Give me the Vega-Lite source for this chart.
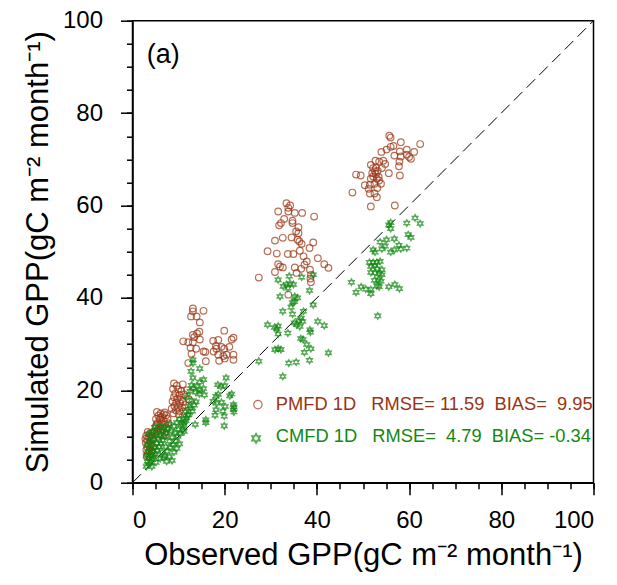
{
 "$schema": "https://vega.github.io/schema/vega-lite/v6.json",
 "width": 461,
 "height": 462,
 "autosize": {"type": "none"},
 "padding": {"left": 132.5, "top": 20.7, "right": 23.5, "bottom": 102.3},
 "background": "white",
 "config": {
  "view": {"stroke": "black", "strokeWidth": 1.5},
  "font": "Liberation Sans",
  "axis": {"domainColor": "black", "domainWidth": 1.5, "tickColor": "black", "tickWidth": 1.5, "labelColor": "black", "titleColor": "black", "grid": false, "labelFont": "Liberation Sans", "titleFont": "Liberation Sans", "titleFontWeight": "normal"}
 },
 "datasets": {
  "diag": [{"obs": 0, "sim": 0}, {"obs": 100, "sim": 100}],
  "pmfd": [
   {"obs":55.7,"sim":75.1},{"obs":56.0,"sim":74.7},{"obs":58.2,"sim":73.7},{"obs":59.5,"sim":72.1},{"obs":61.1,"sim":71.6},{"obs":62.4,"sim":73.3},{"obs":56.6,"sim":72.9},{"obs":56.0,"sim":72.7},{"obs":55.1,"sim":72.1},{"obs":54.0,"sim":71.6},{"obs":58.0,"sim":71.7},{"obs":58.2,"sim":70.6},{"obs":56.8,"sim":70.8},{"obs":59.5,"sim":71.0},{"obs":60.0,"sim":70.5},{"obs":60.4,"sim":70.1},{"obs":57.9,"sim":69.5},{"obs":52.7,"sim":69.7},{"obs":53.5,"sim":69.5},{"obs":54.4,"sim":69.7},{"obs":54.8,"sim":69.0},{"obs":51.7,"sim":68.8},{"obs":57.8,"sim":68.5},{"obs":52.2,"sim":68.1},{"obs":52.8,"sim":68.2},{"obs":54.1,"sim":68.1},{"obs":52.6,"sim":67.4},{"obs":53.2,"sim":67.5},{"obs":52.8,"sim":66.8},{"obs":52.2,"sim":66.3},{"obs":55.6,"sim":67.0},{"obs":58.0,"sim":66.5},{"obs":48.5,"sim":66.7},{"obs":49.5,"sim":66.5},{"obs":51.7,"sim":65.8},{"obs":53.0,"sim":65.8},{"obs":53.5,"sim":65.4},{"obs":53.9,"sim":64.7},{"obs":52.5,"sim":64.7},{"obs":51.5,"sim":64.5},{"obs":50.4,"sim":64.4},{"obs":53.1,"sim":63.8},{"obs":51.2,"sim":63.6},{"obs":47.7,"sim":62.8},{"obs":51.5,"sim":62.6},{"obs":52.5,"sim":62.6},{"obs":53.0,"sim":61.8},{"obs":51.7,"sim":59.8},{"obs":56.9,"sim":60.0},{"obs":53.4,"sim":66.2},{"obs":52.0,"sim":67.0},
   {"obs":33.4,"sim":60.5},{"obs":33.8,"sim":59.5},{"obs":34.2,"sim":60.0},{"obs":31.6,"sim":58.7},{"obs":33.8,"sim":58.7},{"obs":35.2,"sim":58.4},{"obs":36.8,"sim":58.4},{"obs":39.4,"sim":57.6},{"obs":32.9,"sim":57.1},{"obs":34.7,"sim":56.7},{"obs":34.7,"sim":56.2},{"obs":32.2,"sim":56.2},{"obs":31.8,"sim":55.7},{"obs":36.0,"sim":55.3},{"obs":35.5,"sim":54.4},{"obs":36.0,"sim":54.0},{"obs":30.9,"sim":52.4},{"obs":32.6,"sim":53.0},{"obs":34.5,"sim":53.1},{"obs":35.8,"sim":52.6},{"obs":36.2,"sim":52.2},{"obs":36.7,"sim":51.7},{"obs":39.2,"sim":52.0},{"obs":38.4,"sim":50.8},{"obs":36.3,"sim":50.2},{"obs":29.3,"sim":50.1},{"obs":31.3,"sim":49.6},{"obs":33.7,"sim":49.5},{"obs":34.9,"sim":49.5},{"obs":37.1,"sim":49.0},{"obs":40.2,"sim":48.6},{"obs":37.8,"sim":47.9},{"obs":31.6,"sim":47.3},{"obs":32.0,"sim":46.8},{"obs":32.6,"sim":46.6},{"obs":35.2,"sim":46.6},{"obs":37.3,"sim":47.2},{"obs":36.6,"sim":46.3},{"obs":41.6,"sim":47.3},{"obs":42.5,"sim":46.5},{"obs":38.5,"sim":46.1},{"obs":30.9,"sim":45.6},{"obs":35.6,"sim":45.4},{"obs":38.7,"sim":45.0},{"obs":27.4,"sim":44.4},{"obs":38.6,"sim":44.2},{"obs":38.7,"sim":43.4},{"obs":33.8,"sim":40.7},
   {"obs":13.1,"sim":37.7},{"obs":13.1,"sim":37.1},{"obs":15.4,"sim":37.2},{"obs":12.7,"sim":36.0},{"obs":13.9,"sim":36.0},{"obs":14.6,"sim":34.7},{"obs":14.5,"sim":32.7},{"obs":14.0,"sim":32.3},{"obs":13.1,"sim":32.0},{"obs":13.4,"sim":31.5},{"obs":14.6,"sim":31.0},{"obs":11.0,"sim":30.6},{"obs":12.1,"sim":30.4},{"obs":13.1,"sim":30.4},{"obs":12.6,"sim":29.2},{"obs":13.8,"sim":29.0},{"obs":12.8,"sim":27.9},{"obs":15.4,"sim":28.4},{"obs":15.8,"sim":28.3},{"obs":12.1,"sim":25.9},{"obs":15.9,"sim":26.3},{"obs":17.5,"sim":30.7},{"obs":18.6,"sim":30.9},{"obs":19.9,"sim":32.9},{"obs":21.5,"sim":31.0},{"obs":21.9,"sim":31.4},{"obs":18.1,"sim":29.6},{"obs":19.3,"sim":29.4},{"obs":19.9,"sim":29.0},{"obs":21.0,"sim":29.4},{"obs":17.6,"sim":28.4},{"obs":18.6,"sim":27.7},{"obs":19.7,"sim":27.4},{"obs":20.4,"sim":27.7},{"obs":21.9,"sim":27.7},{"obs":20.0,"sim":26.9},{"obs":21.9,"sim":26.6},{"obs":18.8,"sim":26.4},{"obs":18.2,"sim":29.0},
   {"obs":9.0,"sim":21.5},{"obs":9.6,"sim":21.0},{"obs":10.9,"sim":21.3},{"obs":8.8,"sim":20.3},{"obs":9.9,"sim":20.2},{"obs":10.6,"sim":19.8},{"obs":9.3,"sim":19.3},{"obs":10.2,"sim":19.0},{"obs":11.2,"sim":19.1},{"obs":9.0,"sim":18.5},{"obs":9.7,"sim":18.2},{"obs":10.5,"sim":18.0},{"obs":8.7,"sim":17.6},{"obs":9.5,"sim":17.4},{"obs":10.3,"sim":17.2},{"obs":11.0,"sim":17.5},{"obs":9.1,"sim":16.6},{"obs":9.9,"sim":16.4},{"obs":10.8,"sim":16.3},{"obs":11.5,"sim":16.8},{"obs":9.4,"sim":15.7},{"obs":10.2,"sim":15.5},{"obs":11.0,"sim":15.4},{"obs":8.9,"sim":15.0},{"obs":10.0,"sim":14.8},{"obs":12.2,"sim":18.0},{"obs":11.8,"sim":20.0},{"obs":8.5,"sim":16.0},
   {"obs":5.3,"sim":15.3},{"obs":6.1,"sim":15.0},{"obs":7.0,"sim":15.2},{"obs":5.6,"sim":14.5},{"obs":6.5,"sim":14.3},{"obs":7.3,"sim":14.6},{"obs":5.1,"sim":13.8},{"obs":5.9,"sim":13.6},{"obs":6.8,"sim":13.4},{"obs":7.6,"sim":13.8},{"obs":5.4,"sim":12.9},{"obs":6.2,"sim":12.7},{"obs":7.1,"sim":12.6},{"obs":5.0,"sim":12.1},{"obs":5.8,"sim":11.9},{"obs":6.6,"sim":11.7},{"obs":7.4,"sim":11.9},{"obs":5.3,"sim":11.2},{"obs":6.1,"sim":11.0},{"obs":6.9,"sim":10.8},{"obs":5.6,"sim":10.4},{"obs":6.4,"sim":10.2},{"obs":7.2,"sim":10.3},{"obs":4.8,"sim":10.9},{"obs":7.8,"sim":12.9},{"obs":6.0,"sim":14.0},{"obs":6.8,"sim":14.8},{"obs":5.2,"sim":12.5},
   {"obs":3.3,"sim":11.0},{"obs":3.8,"sim":10.6},{"obs":4.3,"sim":10.9},{"obs":3.0,"sim":10.2},{"obs":3.6,"sim":9.9},{"obs":4.2,"sim":9.7},{"obs":3.2,"sim":9.3},{"obs":3.9,"sim":9.1},{"obs":4.5,"sim":9.3},{"obs":2.9,"sim":8.6},{"obs":3.5,"sim":8.4},{"obs":4.1,"sim":8.2},{"obs":3.2,"sim":7.8},{"obs":3.8,"sim":7.6},{"obs":4.4,"sim":7.8},{"obs":3.0,"sim":7.1},{"obs":3.6,"sim":6.9},{"obs":4.2,"sim":6.8},{"obs":3.3,"sim":6.3},{"obs":3.9,"sim":6.1},{"obs":3.1,"sim":5.7},{"obs":4.4,"sim":6.3},{"obs":3.7,"sim":5.6},{"obs":2.8,"sim":9.5},{"obs":4.0,"sim":10.2}
  ],
  "cmfd": [
   {"obs":56.0,"sim":56.3},{"obs":55.6,"sim":55.8},{"obs":56.0,"sim":55.0},{"obs":61.3,"sim":57.3},{"obs":62.4,"sim":56.1},{"obs":59.5,"sim":56.2},{"obs":59.8,"sim":53.7},{"obs":60.4,"sim":53.1},{"obs":56.8,"sim":52.8},{"obs":55.1,"sim":52.6},{"obs":53.7,"sim":52.1},{"obs":54.8,"sim":51.2},{"obs":54.1,"sim":50.6},{"obs":52.2,"sim":50.4},{"obs":52.6,"sim":49.9},{"obs":57.8,"sim":51.4},{"obs":58.2,"sim":50.6},{"obs":59.5,"sim":50.8},{"obs":56.8,"sim":50.4},{"obs":56.0,"sim":49.9},{"obs":51.4,"sim":47.7},{"obs":52.2,"sim":47.7},{"obs":53.0,"sim":47.7},{"obs":53.7,"sim":47.9},{"obs":51.7,"sim":46.8},{"obs":52.5,"sim":47.0},{"obs":53.1,"sim":46.3},{"obs":54.1,"sim":46.1},{"obs":51.7,"sim":45.5},{"obs":52.6,"sim":45.4},{"obs":53.5,"sim":45.2},{"obs":54.1,"sim":45.0},{"obs":52.5,"sim":43.8},{"obs":53.3,"sim":43.9},{"obs":53.9,"sim":43.6},{"obs":53.0,"sim":42.6},{"obs":53.5,"sim":42.4},{"obs":47.5,"sim":43.4},{"obs":49.6,"sim":42.4},{"obs":48.5,"sim":41.2},{"obs":50.6,"sim":41.9},{"obs":51.7,"sim":41.8},{"obs":51.7,"sim":40.9},{"obs":55.6,"sim":42.4},{"obs":56.9,"sim":42.9},{"obs":57.9,"sim":42.0},{"obs":53.2,"sim":36.1},
   {"obs":34.0,"sim":44.7},{"obs":31.6,"sim":43.9},{"obs":36.7,"sim":44.5},{"obs":39.2,"sim":45.0},{"obs":33.4,"sim":42.9},{"obs":34.2,"sim":43.1},{"obs":34.9,"sim":42.9},{"obs":32.7,"sim":42.5},{"obs":33.7,"sim":42.1},{"obs":38.4,"sim":41.6},{"obs":32.0,"sim":40.3},{"obs":35.2,"sim":40.3},{"obs":35.8,"sim":40.0},{"obs":35.1,"sim":39.2},{"obs":34.7,"sim":39.0},{"obs":39.2,"sim":38.5},{"obs":34.4,"sim":38.0},{"obs":32.6,"sim":37.1},{"obs":37.1,"sim":37.1},{"obs":34.7,"sim":36.5},{"obs":36.6,"sim":35.6},{"obs":36.0,"sim":35.1},{"obs":36.9,"sim":34.9},{"obs":35.1,"sim":34.6},{"obs":35.6,"sim":34.2},{"obs":36.3,"sim":33.8},{"obs":40.2,"sim":34.9},{"obs":41.6,"sim":34.0},{"obs":29.3,"sim":34.2},{"obs":30.8,"sim":33.6},{"obs":31.3,"sim":33.3},{"obs":31.6,"sim":33.9},{"obs":31.6,"sim":32.2},{"obs":33.7,"sim":32.4},{"obs":38.5,"sim":33.1},{"obs":38.6,"sim":32.6},{"obs":36.5,"sim":31.2},{"obs":37.0,"sim":31.0},{"obs":37.8,"sim":29.9},{"obs":38.7,"sim":29.0},{"obs":30.9,"sim":28.8},{"obs":31.6,"sim":29.0},{"obs":32.2,"sim":28.8},{"obs":37.3,"sim":28.2},{"obs":42.5,"sim":28.1},{"obs":27.4,"sim":26.3},{"obs":33.9,"sim":25.9},{"obs":35.5,"sim":26.1},{"obs":38.4,"sim":26.5},{"obs":32.6,"sim":23.0},
   {"obs":13.1,"sim":26.6},{"obs":13.1,"sim":25.9},{"obs":14.6,"sim":24.7},{"obs":12.7,"sim":24.1},{"obs":13.1,"sim":22.7},{"obs":15.4,"sim":22.3},{"obs":14.6,"sim":21.8},{"obs":20.3,"sim":22.7},{"obs":12.8,"sim":21.1},{"obs":13.9,"sim":20.9},{"obs":14.6,"sim":20.1},{"obs":13.7,"sim":19.6},{"obs":14.5,"sim":19.2},{"obs":15.4,"sim":20.4},{"obs":15.6,"sim":19.0},{"obs":18.5,"sim":21.2},{"obs":19.2,"sim":20.8},{"obs":20.0,"sim":21.0},{"obs":21.5,"sim":19.2},{"obs":21.1,"sim":18.8},{"obs":18.1,"sim":18.7},{"obs":18.6,"sim":19.1},{"obs":17.5,"sim":17.6},{"obs":18.3,"sim":17.2},{"obs":19.3,"sim":17.4},{"obs":20.1,"sim":16.5},{"obs":21.9,"sim":16.9},{"obs":21.9,"sim":15.8},{"obs":18.1,"sim":15.8},{"obs":19.6,"sim":15.5},{"obs":19.9,"sim":14.4},{"obs":17.9,"sim":14.6},{"obs":15.9,"sim":13.6},{"obs":11.0,"sim":12.9},{"obs":12.2,"sim":14.7},{"obs":12.6,"sim":16.1},{"obs":13.4,"sim":16.8},{"obs":13.8,"sim":17.5},{"obs":13.0,"sim":15.5},{"obs":11.7,"sim":14.0},{"obs":15.9,"sim":13.0},{"obs":19.9,"sim":12.3},{"obs":22.0,"sim":16.4},{"obs":22.0,"sim":15.3},{"obs":13.6,"sim":12.6},{"obs":11.2,"sim":11.1},{"obs":10.2,"sim":13.8},{"obs":11.5,"sim":15.4},{"obs":12.3,"sim":16.6},{"obs":12.8,"sim":17.8},{"obs":11.8,"sim":18.6},{"obs":12.5,"sim":19.8},{"obs":13.2,"sim":20.5},
   {"obs":3.0,"sim":3.5},{"obs":3.5,"sim":4.0},{"obs":3.2,"sim":4.6},{"obs":3.9,"sim":4.4},{"obs":4.3,"sim":5.0},{"obs":3.6,"sim":5.3},{"obs":3.0,"sim":5.8},{"obs":4.0,"sim":6.0},{"obs":4.6,"sim":5.6},{"obs":5.0,"sim":6.2},{"obs":3.4,"sim":6.6},{"obs":4.4,"sim":6.8},{"obs":5.4,"sim":7.0},{"obs":3.8,"sim":7.4},{"obs":4.8,"sim":7.6},{"obs":5.8,"sim":7.8},{"obs":3.2,"sim":8.0},{"obs":4.2,"sim":8.4},{"obs":5.2,"sim":8.6},{"obs":6.2,"sim":8.4},{"obs":3.6,"sim":9.0},{"obs":4.6,"sim":9.4},{"obs":5.6,"sim":9.6},{"obs":6.6,"sim":9.2},{"obs":4.0,"sim":10.0},{"obs":5.0,"sim":10.4},{"obs":6.0,"sim":10.2},{"obs":7.0,"sim":10.0},{"obs":4.4,"sim":11.0},{"obs":5.4,"sim":11.4},{"obs":6.4,"sim":11.2},{"obs":7.4,"sim":10.8},{"obs":5.8,"sim":12.2},{"obs":6.8,"sim":12.0},{"obs":4.8,"sim":12.0},{"obs":3.4,"sim":10.6},{"obs":5.1,"sim":4.4},{"obs":6.0,"sim":5.2},{"obs":7.0,"sim":5.8},{"obs":6.4,"sim":6.6},{"obs":7.5,"sim":6.8},{"obs":8.2,"sim":7.6},{"obs":7.2,"sim":7.8},{"obs":8.8,"sim":8.2},{"obs":8.0,"sim":9.0},{"obs":9.4,"sim":9.0},{"obs":8.6,"sim":9.8},{"obs":9.8,"sim":10.0},{"obs":9.2,"sim":10.8},{"obs":10.4,"sim":10.6},{"obs":10.0,"sim":11.6},{"obs":10.8,"sim":11.4},{"obs":11.2,"sim":12.4},{"obs":10.6,"sim":12.6},{"obs":11.6,"sim":13.4},{"obs":11.0,"sim":13.8},{"obs":12.0,"sim":14.6},{"obs":7.6,"sim":11.6},{"obs":8.4,"sim":11.2},{"obs":9.0,"sim":12.2},{"obs":8.0,"sim":12.6},{"obs":9.6,"sim":13.0},{"obs":7.4,"sim":4.6},{"obs":8.0,"sim":5.6},{"obs":9.0,"sim":6.6},{"obs":8.6,"sim":4.8},{"obs":9.6,"sim":7.4},{"obs":10.2,"sim":8.4},{"obs":4.2,"sim":3.5},{"obs":6.7,"sim":5.4}
  ],
  "legsym": [{"obs": 27.2, "sim": 16.9, "s": "PMFD"}, {"obs": 26.8, "sim": 9.6, "s": "CMFD"}],
  "legtext": [
   {"obs": 31.1, "sim": 16.9, "s": "PMFD", "t": "PMFD 1D\u00a0\u00a0\u00a0RMSE=\u00a011.59\u00a0\u00a0BIAS=\u00a0\u00a09.95"},
   {"obs": 31.1, "sim": 10.0, "s": "CMFD", "t": "CMFD 1D\u00a0\u00a0\u00a0RMSE=\u00a0\u00a04.79\u00a0\u00a0BIAS=\u00a0-0.34"}
  ],
  "panel": [{"obs": 3.1, "sim": 92.6, "t": "(a)"}]
 },
 "layer": [
  {
   "data": {"name": "diag"},
   "mark": {"type": "line", "color": "black", "strokeWidth": 1, "strokeDash": [12, 6]},
   "encoding": {
    "x": {"field": "obs", "type": "quantitative", "scale": {"domain": [0, 100], "nice": false},
     "axis": {"orient": "bottom", "values": [0, 20, 40, 60, 80, 100], "tickSize": 12, "labelFontSize": 24, "labelPadding": 14, "title": "Observed GPP(gC m\u207b\u00b2 month\u207b\u00b9)", "titleFontSize": 31, "titlePadding": 8}},
    "y": {"field": "sim", "type": "quantitative", "scale": {"domain": [0, 100], "nice": false},
     "axis": {"orient": "left", "values": [0, 20, 40, 60, 80, 100], "tickSize": 12, "labelFontSize": 24, "labelPadding": 18, "title": "Simulated GPP(gC m\u207b\u00b2 month\u207b\u00b9)", "titleFontSize": 31, "titlePadding": 8}}
   }
  },
  {
   "data": {"name": "pmfd"},
   "mark": {"type": "point", "shape": "circle", "filled": false, "color": "#993311", "size": 44, "strokeWidth": 1.2},
   "encoding": {
    "x": {"field": "obs", "type": "quantitative", "scale": {"domain": [0, 100], "nice": false},
     "axis": {"orient": "bottom", "values": [0,5,10,15,20,25,30,35,40,45,50,55,60,65,70,75,80,85,90,95,100], "tickSize": 6, "labels": false, "domain": false, "title": null}},
    "y": {"field": "sim", "type": "quantitative", "scale": {"domain": [0, 100], "nice": false},
     "axis": {"orient": "left", "values": [0,5,10,15,20,25,30,35,40,45,50,55,60,65,70,75,80,85,90,95,100], "tickSize": 6, "labels": false, "domain": false, "title": null}}
   }
  },
  {
   "data": {"name": "cmfd"},
   "mark": {"type": "point", "shape": "M0,-1L0.866,0.5L-0.866,0.5Z M0,1L0.866,-0.5L-0.866,-0.5Z", "filled": false, "color": "#118811", "size": 44, "strokeWidth": 1.3},
   "encoding": {
    "x": {"field": "obs", "type": "quantitative", "scale": {"domain": [0, 100], "nice": false}, "axis": null},
    "y": {"field": "sim", "type": "quantitative", "scale": {"domain": [0, 100], "nice": false}, "axis": null}
   }
  },
  {
   "data": {"name": "legsym"},
   "transform": [{"filter": "datum.s === 'PMFD'"}],
   "mark": {"type": "point", "shape": "circle", "filled": false, "color": "#993311", "size": 70, "strokeWidth": 1.2},
   "encoding": {
    "x": {"field": "obs", "type": "quantitative", "axis": null},
    "y": {"field": "sim", "type": "quantitative", "axis": null}
   }
  },
  {
   "data": {"name": "legsym"},
   "transform": [{"filter": "datum.s === 'CMFD'"}],
   "mark": {"type": "point", "shape": "M0,-1L0.866,0.5L-0.866,0.5Z M0,1L0.866,-0.5L-0.866,-0.5Z", "filled": false, "color": "#118811", "size": 100, "strokeWidth": 1.4},
   "encoding": {
    "x": {"field": "obs", "type": "quantitative", "axis": null},
    "y": {"field": "sim", "type": "quantitative", "axis": null}
   }
  },
  {
   "data": {"name": "legtext"},
   "mark": {"type": "text", "align": "left", "baseline": "middle", "fontSize": 18.3, "font": "Liberation Sans"},
   "encoding": {
    "x": {"field": "obs", "type": "quantitative", "axis": null},
    "y": {"field": "sim", "type": "quantitative", "axis": null},
    "text": {"field": "t"},
    "color": {"field": "s", "type": "nominal", "scale": {"domain": ["PMFD", "CMFD"], "range": ["#993311", "#118811"]}, "legend": null}
   }
  },
  {
   "data": {"name": "panel"},
   "mark": {"type": "text", "align": "left", "baseline": "middle", "fontSize": 27, "font": "Liberation Sans", "color": "black"},
   "encoding": {
    "x": {"field": "obs", "type": "quantitative", "axis": null},
    "y": {"field": "sim", "type": "quantitative", "axis": null},
    "text": {"field": "t"}
   }
  }
 ],
 "resolve": {"axis": {"x": "independent", "y": "independent"}}
}
